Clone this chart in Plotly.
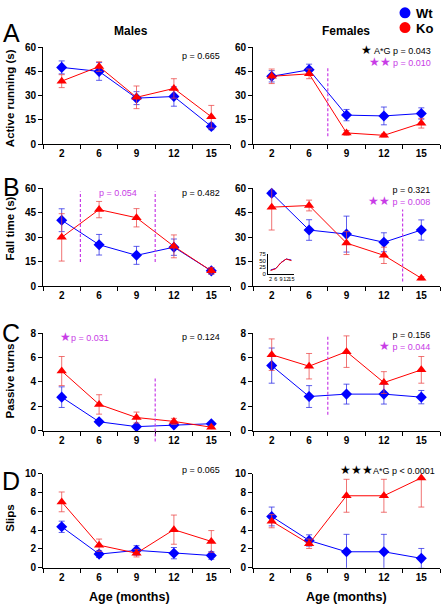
import plotly.graph_objects as go

ages = ["2", "6", "9", "12", "15"]

# Panel A - Active running (s)
a_m_wt = [47.5, 45.0, 28.5, 29.5, 11.0]
a_m_wt_err = [4.0, 5.5, 4.0, 6.0, 2.0]
a_m_ko = [39.0, 48.0, 29.0, 34.5, 17.0]
a_m_ko_err = [4.0, 3.0, 7.0, 6.0, 7.0]
a_f_wt = [42.0, 46.0, 18.0, 17.5, 19.0]
a_f_wt_err = [3.5, 3.5, 3.5, 5.5, 3.5]
a_f_ko = [42.0, 43.5, 7.0, 5.5, 13.0]
a_f_ko_err = [4.5, 3.0, 1.5, 1.0, 3.0]

# Panel B - Fall time (s)
b_m_wt = [40.5, 25.5, 19.0, 24.0, 9.5]
b_m_wt_err = [7.0, 6.3, 5.5, 5.0, 2.0]
b_m_ko = [30.0, 47.0, 42.0, 24.5, 9.5]
b_m_ko_err = [14.5, 5.0, 5.6, 7.0, 2.0]
b_f_wt = [57.0, 34.5, 32.0, 27.0, 34.5]
b_f_wt_err = [1.5, 6.3, 11.0, 5.8, 6.2]
b_f_ko = [48.5, 49.5, 26.5, 19.0, 5.0]
b_f_ko_err = [14.0, 3.3, 7.0, 5.0, 1.0]

# Panel C - Passive turns
c_m_wt = [2.75, 0.72, 0.32, 0.46, 0.56]
c_m_wt_err = [0.85, 0.15, 0.1, 0.1, 0.1]
c_m_ko = [4.9, 2.15, 1.07, 0.75, 0.27]
c_m_ko_err = [1.2, 0.8, 0.45, 0.25, 0.1]
c_f_wt = [5.35, 2.8, 3.0, 3.0, 2.75]
c_f_wt_err = [1.45, 0.9, 0.82, 0.82, 0.55]
c_f_ko = [6.25, 5.3, 6.5, 3.95, 5.0]
c_f_ko_err = [1.3, 1.05, 1.3, 0.9, 1.1]

# Panel D - Slips
d_m_wt = [4.35, 1.45, 1.85, 1.55, 1.3]
d_m_wt_err = [0.6, 0.35, 0.5, 0.6, 0.4]
d_m_ko = [7.0, 2.4, 1.55, 4.05, 2.8]
d_m_ko_err = [1.05, 0.65, 0.4, 1.55, 1.15]
d_f_wt = [5.45, 2.9, 1.7, 1.7, 1.0]
d_f_wt_err = [1.0, 0.6, 1.85, 1.85, 1.05]
d_f_ko = [4.95, 2.55, 7.65, 7.65, 9.55]
d_f_ko_err_plus = [0.7, 0.5, 1.75, 1.75, 0.0]
d_f_ko_err_minus = [0.7, 0.5, 1.75, 1.75, 3.1]

# Inset (panel B females)
inset_wt = [14, 20, 42, 56, 52]
inset_ko = [12, 19, 42, 56, 50]

W, H = 446, 612
FONT = "Liberation Sans, Arial, Helvetica, sans-serif"
BLUE = "#0000ff"
RED = "#ff0000"
BLUE_ERR = "rgba(40,40,230,0.75)"
RED_ERR = "rgba(235,70,70,0.75)"
MAG = "#c83ce6"


def px(x):
    return x / W


def py(y):
    return 1 - y / H


cols = {"M": (43, 230), "F": (253, 440)}
rows = {"A": (42, 141, 60, 15), "B": (186, 286, 60, 15),
        "C": (334, 433, 8, 2), "D": (477, 573, 10, 2)}

panels = [
    ("A", "M", a_m_wt, a_m_wt_err, a_m_wt_err, a_m_ko, a_m_ko_err, a_m_ko_err),
    ("A", "F", a_f_wt, a_f_wt_err, a_f_wt_err, a_f_ko, a_f_ko_err, a_f_ko_err),
    ("B", "M", b_m_wt, b_m_wt_err, b_m_wt_err, b_m_ko, b_m_ko_err, b_m_ko_err),
    ("B", "F", b_f_wt, b_f_wt_err, b_f_wt_err, b_f_ko, b_f_ko_err, b_f_ko_err),
    ("C", "M", c_m_wt, c_m_wt_err, c_m_wt_err, c_m_ko, c_m_ko_err, c_m_ko_err),
    ("C", "F", c_f_wt, c_f_wt_err, c_f_wt_err, c_f_ko, c_f_ko_err, c_f_ko_err),
    ("D", "M", d_m_wt, d_m_wt_err, d_m_wt_err, d_m_ko, d_m_ko_err, d_m_ko_err),
    ("D", "F", d_f_wt, d_f_wt_err, d_f_wt_err, d_f_ko, d_f_ko_err_plus, d_f_ko_err_minus),
]

fig = go.Figure()
layout = {}

for i, (r, c, wt, wte_p, wte_m, ko, koe_p, koe_m) in enumerate(panels, start=1):
    top, bot, ymax, dt = rows[r]
    x0, x1 = cols[c]
    sfx = "" if i == 1 else str(i)
    layout["xaxis" + sfx] = dict(
        domain=[px(x0), px(x1)], anchor="y" + sfx, type="category",
        categoryorder="array", categoryarray=ages, range=[-0.5, 4.5],
        showline=True, linecolor="black", linewidth=1, ticks="outside",
        tickson="boundaries", ticklen=4, tickcolor="black", tickangle=0,
        tickfont=dict(family=FONT, size=10, color="black", weight="bold"),
        showgrid=False, zeroline=False, fixedrange=True)
    layout["yaxis" + sfx] = dict(
        domain=[py(bot), py(top)], anchor="x" + sfx, range=[0, ymax],
        tickvals=list(range(0, ymax + 1, dt)),
        showline=True, linecolor="black", linewidth=1, ticks="outside",
        ticklen=4, tickcolor="black",
        tickfont=dict(family=FONT, size=10, color="black", weight="bold"),
        showgrid=False, zeroline=False, fixedrange=True)
    fig.add_trace(go.Scatter(
        x=ages, y=wt, xaxis="x" + sfx, yaxis="y" + sfx, name="Wt",
        mode="lines+markers", showlegend=False, cliponaxis=False,
        line=dict(color=BLUE, width=1),
        marker=dict(symbol="diamond", size=8.5, color=BLUE),
        error_y=dict(type="data", array=wte_p, arrayminus=wte_m,
                     color=BLUE_ERR, thickness=1, width=3)))
    fig.add_trace(go.Scatter(
        x=ages, y=ko, xaxis="x" + sfx, yaxis="y" + sfx, name="Ko",
        mode="lines+markers", showlegend=False, cliponaxis=False,
        line=dict(color=RED, width=1),
        marker=dict(symbol="triangle-up", size=9, color=RED),
        error_y=dict(type="data", array=koe_p, arrayminus=koe_m,
                     color=RED_ERR, thickness=1, width=3)))

# inset axes
layout["xaxis9"] = dict(
    domain=[px(268), px(294)], anchor="y9", type="category",
    categoryorder="array", categoryarray=ages, range=[-0.5, 4.5],
    tickmode="array", tickvals=ages, ticktext=ages,
    showline=True, linecolor="black", linewidth=0.7, ticks="", tickangle=0,
    tickfont=dict(family=FONT, size=5.5, color="black"),
    showgrid=False, zeroline=False, fixedrange=True)
layout["yaxis9"] = dict(
    domain=[py(273), py(253)], anchor="x9", range=[0, 75],
    tickvals=[0, 25, 50, 75], showline=True, linecolor="black", linewidth=0.7,
    ticks="", tickfont=dict(family=FONT, size=6, color="black"),
    showgrid=False, zeroline=False, fixedrange=True)
fig.add_trace(go.Scatter(x=ages, y=inset_wt, xaxis="x9", yaxis="y9", name="Wt",
                         mode="lines", showlegend=False,
                         line=dict(color=BLUE, width=1)))
fig.add_trace(go.Scatter(x=ages, y=inset_ko, xaxis="x9", yaxis="y9", name="Ko",
                         mode="lines", showlegend=False,
                         line=dict(color=RED, width=1)))


def xb(c, boundary):
    x0, x1 = cols[c]
    return px(x0 + (boundary + 0.5) / 5 * (x1 - x0))


def yv(r, v):
    top, bot, ymax, dt = rows[r]
    return py(bot - v / ymax * (bot - top))


shapes = []
dashed = [("A", "F", 1.5, 5, 48), ("B", "M", 0.5, 15, 58), ("B", "M", 2.5, 15, 58),
          ("B", "F", 3.5, 3, 47), ("C", "M", 2.5, -0.9, 4.3), ("C", "F", 1.5, 1.3, 7.8)]
for r, c, b, ylo, yhi in dashed:
    xx = xb(c, b)
    shapes.append(dict(type="line", xref="paper", yref="paper", x0=xx, x1=xx,
                       y0=yv(r, ylo), y1=yv(r, yhi),
                       line=dict(color=MAG, width=1.2, dash="3px,2px")))

# manual legend circles
for cy, col in [(7, BLUE), (22, RED)]:
    shapes.append(dict(type="circle", xref="paper", yref="paper",
                       xsizemode="pixel", ysizemode="pixel",
                       xanchor=px(405), yanchor=py(cy),
                       x0=-5.5, x1=5.5, y0=-5.5, y1=5.5,
                       fillcolor=col, line=dict(color=col, width=0)))

ann = []


def text(x, y, t, size=9, color="black", xanchor="center", weight="normal", angle=0,
         align="center"):
    ann.append(dict(x=px(x), y=py(y), xref="paper", yref="paper", text=t,
                    showarrow=False, xanchor=xanchor, yanchor="middle",
                    textangle=angle, align=align,
                    font=dict(family=FONT, size=size, color=color, weight=weight)))


# legend text
text(414, 7.5, "Wt", size=13, xanchor="left", weight="bold")
text(414, 22.5, "Ko", size=13, xanchor="left", weight="bold")

# column titles
text(131, 25, "Males", size=12, weight="bold")
text(346, 25, "Females", size=12, weight="bold")

# x axis titles
text(129, 603, "Age (months)", size=12.5, weight="bold")
text(346, 603, "Age (months)", size=12.5, weight="bold")

# y axis titles
text(10, 94, "Active running (s)", size=11.5, weight="bold", angle=-90)
text(10, 227, "Fall time (s)", size=11.5, weight="bold", angle=-90)
text(10, 383, "Passive turns", size=11.5, weight="bold", angle=-90)
text(10, 523, "Slips", size=11.5, weight="bold", angle=-90)

# panel letters
for letter, y in [("A", 28), ("B", 185), ("C", 334), ("D", 485)]:
    text(11, y, letter, size=25)


def stars(n):
    return "<span style='font-size:12px'>" + "★" * n + "</span>"


def mag(t):
    return "<span style='color:" + MAG + "'>" + t + "</span>"


# p values
text(222, 51, "p = 0.665", xanchor="right")
text(433, 51.5, stars(1) + " A*G p = 0.043<br>" + mag(stars(2) + " p = 0.010"),
     xanchor="right", align="right")
text(118, 191, "p = 0.054", color=MAG)
text(222, 191, "p = 0.482", xanchor="right")
text(432, 194.5, "p = 0.321<br>" + mag(stars(2) + " p = 0.008"),
     xanchor="right", align="right")
text(58, 337.5, stars(1) + "p = 0.031", color=MAG, xanchor="left")
text(222, 337.5, "p = 0.124", xanchor="right")
text(432, 342.5, "p = 0.156<br>" + mag(stars(1) + " p = 0.044"),
     xanchor="right", align="right")
text(222, 473, "p = 0.065", xanchor="right")
text(437, 473, stars(3) + "A*G p &lt; 0.0001", xanchor="right")

fig.update_layout(
    width=W, height=H, margin=dict(l=0, r=0, t=0, b=0),
    paper_bgcolor="white", plot_bgcolor="white", showlegend=False,
    font=dict(family=FONT, color="black"),
    shapes=shapes, annotations=ann, **layout)

fig.write_html(
    "out.html",
    config={"displayModeBar": False},
    post_script="document.body.style.margin='0';document.body.style.overflow='hidden';")
